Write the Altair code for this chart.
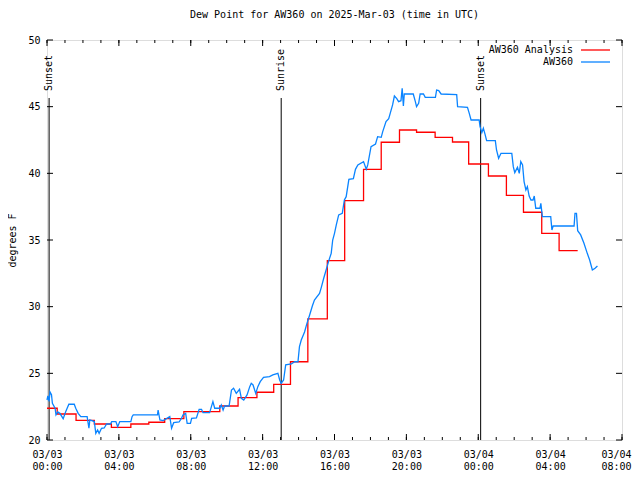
import altair as alt
import pandas as pd

# ---- data (minutes after 2025-03-03 00:00 UTC, dew point in deg F) ----
blue_min = [0, 3, 7, 10, 15, 18, 27, 30, 36, 43, 54, 62, 73, 91, 96, 104, 113, 134, 140, 143,
            158, 163, 169, 174, 182, 191, 199, 212, 216, 230, 236, 243, 280, 284, 288, 369, 371, 377, 388, 399,
            410, 416, 423, 441, 449, 454, 463, 468, 479, 483, 499, 508, 516, 521, 543, 549, 554, 560, 577, 582,
            588, 593, 608, 616, 623, 632, 643, 649, 657, 668, 677, 682, 688, 697, 704, 712, 723, 743, 754, 771,
            777, 782, 790, 797, 816, 827, 838, 843, 849, 860, 868, 877, 886, 893, 910, 916, 924, 932, 941, 949,
            954, 960, 966, 974, 986, 993, 999, 1008, 1023, 1030, 1038, 1057, 1066, 1071, 1082, 1097, 1104, 1116, 1121, 1132,
            1141, 1146, 1154, 1160, 1168, 1174, 1182, 1186, 1190, 1193, 1223, 1230, 1234, 1241, 1246, 1257, 1263, 1297, 1301, 1308,
            1316, 1368, 1371, 1404, 1410, 1416, 1443, 1446, 1452, 1457, 1463, 1468, 1497, 1501, 1508, 1516, 1552, 1557, 1562, 1571,
            1577, 1582, 1588, 1593, 1599, 1604, 1610, 1616, 1623, 1627, 1632, 1646, 1649, 1654, 1682, 1686, 1690, 1760, 1763, 1768,
            1772, 1782, 1793, 1804, 1812, 1821, 1830, 1838]
blue_val = [23.0, 23.3, 22.9, 23.6, 23.4, 22.75, 22.38, 21.88, 22.1, 22.0, 21.6, 22.1, 22.68, 22.68, 22.38, 22.0, 21.75, 21.75, 20.88, 21.5,
            21.38, 20.5, 20.75, 20.5, 20.88, 20.9, 21.2, 21.2, 21.38, 21.38, 21.0, 21.38, 21.38, 21.75, 21.88, 21.88, 22.25, 21.5, 21.45, 21.6,
            21.75, 20.88, 21.3, 21.35, 21.62, 21.88, 22.0, 21.25, 21.25, 21.62, 21.65, 22.3, 22.3, 22.05, 22.05, 22.5, 22.88, 22.38, 22.38, 22.62,
            22.25, 22.55, 22.55, 23.75, 23.88, 23.5, 23.8, 23.13, 23.0, 23.38, 24.0, 24.25, 24.13, 23.5, 24.0, 24.38, 24.7, 24.75, 24.88, 25.0,
            24.5, 24.25, 24.5, 25.63, 25.7, 25.87, 25.87, 27.0, 27.5, 28.1, 28.75, 29.38, 30.05, 30.5, 31.0, 31.45, 32.13, 32.75, 33.45, 34.0,
            35.0, 35.5, 36.13, 36.88, 37.0, 38.0, 38.25, 39.55, 39.6, 40.3, 40.63, 40.88, 40.3, 40.63, 42.0, 42.2, 42.75, 42.7, 43.13, 43.88,
            44.1, 44.5, 45.13, 45.8, 45.6, 45.38, 45.45, 46.38, 45.05, 45.95, 45.95, 45.38, 45.0, 45.25, 45.95, 45.95, 45.7, 45.7, 46.25, 46.2,
            45.95, 45.9, 45.0, 44.95, 44.5, 44.0, 44.0, 43.5, 43.05, 43.38, 42.9, 42.45, 42.45, 41.75, 41.13, 41.5, 41.5, 40.5, 40.05, 40.45,
            40.0, 40.88, 40.63, 39.38, 38.75, 39.0, 38.3, 38.0, 38.0, 38.3, 37.38, 37.38, 37.75, 36.75, 36.75, 35.75, 36.05, 36.05, 37.0, 37.0,
            35.7, 35.38, 34.75, 34.0, 33.5, 32.75, 32.88, 33.05]

red_min = [0, 34, 97, 158, 215, 280, 340, 393, 457, 577, 638, 701, 757, 813, 871, 936, 994, 1057,
           1116, 1177, 1234, 1296, 1354, 1408, 1474, 1534, 1591, 1652, 1710, 1772]
red_val = [22.38, 21.95, 21.47, 21.2, 20.95, 21.2, 21.33, 21.6, 22.13, 22.55, 23.18, 23.58, 24.17, 25.87, 29.08, 33.45, 37.95, 40.3,
           42.33, 43.25, 43.08, 42.7, 42.35, 40.7, 39.8, 38.35, 37.08, 35.5, 34.2, 34.2]

event_min = [7, 782, 1448]
event_label = ["Sunset", "Sunrise", "Sunset"]

x_major = [0, 4, 8, 12, 16, 20, 24, 28, 32]
x_minor = list(range(0, 33))
y_major = [20, 25, 30, 35, 40, 45, 50]

FONT = "DejaVu Sans Mono"
RED = "#ff0000"
BLUE = "#0a84ff"
W, H = 575, 400

blue = pd.DataFrame({"h": [m / 60 for m in blue_min], "v": blue_val})
red = pd.DataFrame({"h": [m / 60 for m in red_min], "v": red_val})
events = pd.DataFrame({"h": [m / 60 for m in event_min], "label": event_label})
xmaj = pd.DataFrame({"h": x_major})
xmin = pd.DataFrame({"h": x_minor})
ymaj = pd.DataFrame({"v": y_major})

xs = alt.Scale(domain=[0, 32], nice=False, zero=False)
ys = alt.Scale(domain=[20, 50], nice=False, zero=False)

xaxis = alt.Axis(
    values=x_major, ticks=False, domain=False, grid=False, title=None,
    labelExpr="[datum.value < 24 ? '03/03' : '03/04', (datum.value % 24 < 10 ? '0' : '') + (datum.value % 24) + ':00']",
    labelPadding=9, labelLineHeight=12, labelFont=FONT, labelFontSize=10, labelColor="black",
    labelFlush=False, labelOverlap=False,
    labelOffset={"condition": {"test": "datum.value == 32", "value": -6}, "value": 0},
)
yaxis = alt.Axis(
    values=y_major, ticks=False, domain=False, grid=False, title="degrees F",
    labelPadding=7, labelFont=FONT, labelFontSize=10, labelColor="black",
    titleFont=FONT, titleFontSize=10, titleFontWeight="normal", titleColor="black", titlePadding=10,
)

X = alt.X("h:Q", scale=xs, axis=xaxis)
Y = alt.Y("v:Q", scale=ys, axis=yaxis)

blue_line = alt.Chart(blue).mark_line(color=BLUE, strokeWidth=1.3).encode(x=X, y=Y)
red_line = alt.Chart(red).mark_line(color=RED, strokeWidth=1.3, interpolate="step-after").encode(x=X, y=Y)

ev_rule = alt.Chart(events).mark_rule(color="black", strokeWidth=1).encode(
    x=X, y=alt.value(58), y2=alt.value(H))
ev_text = alt.Chart(events).mark_text(
    angle=270, align="left", baseline="middle", font=FONT, fontSize=10, color="black", dx=1
).encode(x=X, y=alt.value(52), text="label:N")

# inward tick marks (gnuplot style)
tick_style = dict(color="black", strokeWidth=1)
xb_major = alt.Chart(xmaj).mark_rule(**tick_style).encode(x=X, y=alt.value(H), y2=alt.value(H - 6))
xt_major = alt.Chart(xmaj).mark_rule(**tick_style).encode(x=X, y=alt.value(0), y2=alt.value(6))
xb_minor = alt.Chart(xmin).mark_rule(**tick_style).encode(x=X, y=alt.value(H), y2=alt.value(H - 3))
xt_minor = alt.Chart(xmin).mark_rule(**tick_style).encode(x=X, y=alt.value(0), y2=alt.value(3))
yl_major = alt.Chart(ymaj).mark_rule(**tick_style).encode(y=Y, x=alt.value(0), x2=alt.value(6))
yr_major = alt.Chart(ymaj).mark_rule(**tick_style).encode(y=Y, x=alt.value(W), x2=alt.value(W - 6))

# legend (text then line sample, like gnuplot)
leg1 = pd.DataFrame({"label": ["AW360 Analysis"]})
leg2 = pd.DataFrame({"label": ["AW360"]})
leg_t1 = alt.Chart(leg1).mark_text(align="right", baseline="middle", font=FONT, fontSize=10, color="black").encode(
    x=alt.value(526), y=alt.value(10), text="label:N")
leg_t2 = alt.Chart(leg2).mark_text(align="right", baseline="middle", font=FONT, fontSize=10, color="black").encode(
    x=alt.value(526), y=alt.value(22), text="label:N")
leg_l1 = alt.Chart(leg1).mark_rule(color=RED, strokeWidth=1.3).encode(
    x=alt.value(534), x2=alt.value(563), y=alt.value(10))
leg_l2 = alt.Chart(leg2).mark_rule(color=BLUE, strokeWidth=1.3).encode(
    x=alt.value(534), x2=alt.value(563), y=alt.value(22))

chart = alt.layer(
    xb_minor, xt_minor, xb_major, xt_major, yl_major, yr_major,
    ev_rule, ev_text, red_line, blue_line,
    leg_t1, leg_t2, leg_l1, leg_l2,
).properties(
    width=W, height=H,
    title=alt.TitleParams(
        "Dew Point for AW360 on 2025-Mar-03 (time in UTC)",
        font=FONT, fontSize=10, fontWeight="normal", color="black", anchor="middle", offset=15,
    ),
    autosize=alt.AutoSizeParams(type="none"),
    padding={"left": 39, "top": 32, "right": 10, "bottom": 30},
).configure_view(
    stroke="black", strokeWidth=1
).configure(background="white")

chart.save("out.html", embed_options={"renderer": "svg", "actions": False})
